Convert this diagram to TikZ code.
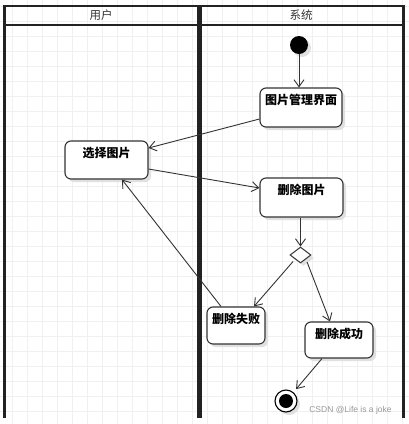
\documentclass[tikz,border=0pt]{standalone}
\usepackage{fontspec}
\newfontfamily\cjk{Noto Sans CJK SC}
\setsansfont{Liberation Sans}
\usetikzlibrary{arrows.meta,shapes.geometric,shadows}
\definecolor{gridc}{HTML}{F0F0F0}
\definecolor{ink}{HTML}{222222}
\definecolor{edgec}{HTML}{333333}
\tikzset{
  gridline/.style={draw=gridc, line width=0.8pt},
  lane/.style={draw=ink, line width=2.5pt},
  midlane/.style={draw=ink, line width=4.5pt},
  head/.style={font=\cjk\fontsize{11.5}{12}\selectfont, text=black!80, inner sep=0pt},
  shade/.style={drop shadow={shadow xshift=3pt, shadow yshift=-3pt, fill=black!12, opacity=1}},
  box/.style={draw=edgec, line width=1.1pt, fill=white, rounded corners=6pt, shade,
    font=\cjk\bfseries\fontsize{12}{14}\selectfont, text height=13pt, inner ysep=3.5pt, inner xsep=2pt},
  startnode/.style={circle, fill=black, minimum size=18pt, inner sep=0pt, shade},
  endouter/.style={circle, draw=black, line width=1.1pt, fill=white, minimum size=22pt, inner sep=0pt, shade},
  endinner/.style={circle, fill=black, minimum size=14pt, inner sep=0pt},
  decision/.style={diamond, draw=edgec, line width=1pt, fill=white, minimum width=21pt, minimum height=16pt, inner sep=0pt, aspect=1.3, shade},
  flow/.style={draw=edgec, line width=0.9pt, -{Straight Barb[length=7pt,width=10pt]}},
  wm/.style={font=\sffamily\fontsize{8.5}{10}\selectfont, text=black!40, inner sep=0pt}
}
\begin{document}
\begin{tikzpicture}[x=1pt, y=-1pt]
\useasboundingbox (0,0) rectangle (409,424);
\fill[white] (0,0) rectangle (409,424);
\foreach \x in {12.5,27.5,...,405} \draw[gridline] (\x,0) -- (\x,424);
\foreach \y in {6.7,21.7,...,424} \draw[gridline] (0,\y) -- (409,\y);
% swimlanes
\draw[lane] (4.5,6) rectangle (403.5,25);
\draw[lane] (4.5,6) -- (4.5,418);
\draw[lane] (403.5,6) -- (403.5,418);
\draw[midlane] (199.5,6) -- (199.5,418);
\node[head] (hu) at (101,15.5) {用户};
\node[head] (hs) at (301,15.5) {系统};
% nodes
\node[startnode] (s) at (299,45) {};
\node[box, minimum width=82pt, text depth=19pt] (mgr) at (301,107.5) {图片管理界面};
\node[box, minimum width=83pt, text depth=18pt] (sel) at (106.5,160) {选择图片};
\node[box, minimum width=83pt, text depth=19pt] (del) at (301.5,197.5) {删除图片};
\node[decision] (dia) at (300.5,255) {};
\node[box, minimum width=58pt, text depth=17pt] (fail) at (236,325.5) {删除失败};
\node[box, minimum width=68pt, text depth=16pt] (succ) at (339,340) {删除成功};
\node[endouter] (e) at (286,401) {};
\node[endinner] (ein) at (e) {};
\node[wm] (wm) at (350.5,410) {CSDN @Life is a joke};
% connectors
\draw[flow] (s.south) -- (s.south |- mgr.north);
\draw[flow] ([yshift=-11.5pt]mgr.west) -- ([yshift=12pt]sel.east);
\draw[flow] ([yshift=-9pt]sel.east) -- ([yshift=9.5pt]del.west);
\draw[flow] (del.south -| dia.north) -- (dia.north);
\draw[flow, shorten <=3pt] (dia.south west) -- ([xshift=18pt]fail.north);
\draw[flow, shorten <=3pt] (dia.south east) -- ([xshift=-9pt]succ.north);
\draw[flow, shorten >=4pt] ([xshift=-17pt]succ.south) -- (e);
\draw[flow] ([xshift=-15pt]fail.north) -- ([xshift=15.5pt]sel.south);
\end{tikzpicture}
\end{document}
